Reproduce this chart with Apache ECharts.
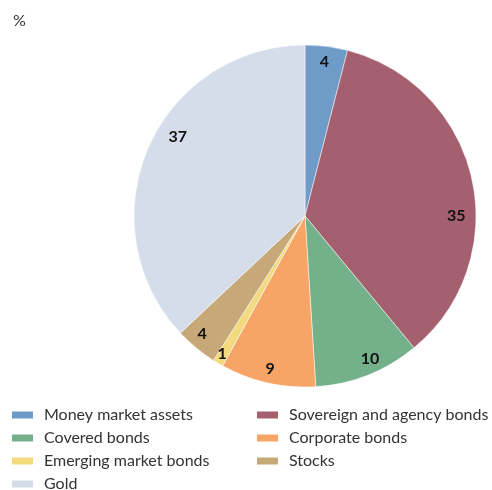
<!DOCTYPE html>
<html><head><meta charset="utf-8">
<script src="https://cdn.jsdelivr.net/npm/echarts@6/dist/echarts.min.js"></script>
<style>html,body{margin:0;padding:0;background:#fff}#c{width:492px;height:490px}</style>
</head><body><div id="c"></div>
<script>
const categories = ["Money market assets","Sovereign and agency bonds","Covered bonds","Corporate bonds","Emerging market bonds","Stocks","Gold"];
const values = [4,35,10,9,1,4,37];
const colors = ["#6f9bc9","#a5606f","#74b08a","#f7a566","#f2db7f","#c7a878","#d5dcea"];
const leftLegend = ["Money market assets","Covered bonds","Emerging market bonds","Gold"];
const rightLegend = ["Sovereign and agency bonds","Corporate bonds","Stocks"];
// small nudges of the value labels, as placed in the original
const labelNudge = [[0,0],[0,34],[8,-1],[-1,2],[-4,4],[-4,-2],[15,-18]];

const chart = echarts.init(document.getElementById('c'), null, {renderer:'canvas'});
const data = categories.map((n,i)=>({name:n, value:values[i], itemStyle:{color:colors[i]}}));
const font = 'Lato, "Open Sans", sans-serif';
const legendCommon = {
  orient:'vertical', itemWidth:23, itemHeight:9, itemGap:7, icon:'rect', padding:0, height:100,
  textStyle:{fontFamily:font, fontSize:16, color:'#333', lineHeight:16, padding:[0,0,0,5]},
  selectedMode:false
};
chart.setOption({
  animation:false,
  textStyle:{fontFamily:font},
  title:{text:'%', left:8, top:8, textStyle:{fontFamily:font, fontSize:16, fontWeight:'normal', color:'#333'}},
  legend:[
    Object.assign({data:leftLegend, left:10, top:407}, legendCommon),
    Object.assign({data:rightLegend, left:255, top:407}, legendCommon)
  ],
  series:[
    {type:'pie', center:[305,216], radius:[0,171], startAngle:90, clockwise:true,
     label:{show:false}, labelLine:{show:false},
     itemStyle:{borderColor:'#fff', borderWidth:0.5},
     emphasis:{disabled:true}, data:data},
    {type:'pie', center:[305,216], radius:[133,171], startAngle:90, clockwise:true, silent:true,
     itemStyle:{color:'rgba(0,0,0,0)'},
     label:{show:true, position:'inside', formatter:'{c}', fontFamily:font, fontSize:16, fontWeight:'bold', color:'#111'},
     labelLine:{show:false}, emphasis:{disabled:true},
     labelLayout:function(p){ const n = labelNudge[p.dataIndex]; return {dx:n[0], dy:n[1]}; },
     data:categories.map((n,i)=>({name:n, value:values[i], itemStyle:{color:'rgba(0,0,0,0)'}}))}
  ]
});
</script></body></html>
